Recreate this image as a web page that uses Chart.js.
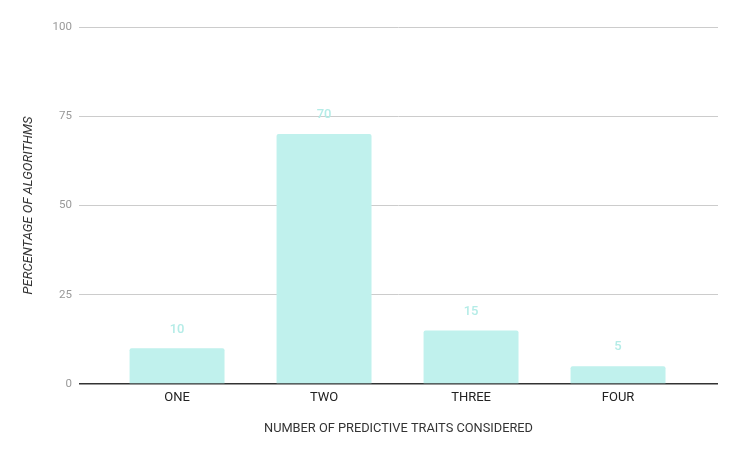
<!DOCTYPE html>
<html>
<head>
<meta charset="utf-8">
<script src="https://cdn.jsdelivr.net/npm/chart.js@4"></script>
<style>
  html, body { margin: 0; padding: 0; background: #fff; }
  #wrap { width: 740px; height: 457px; }
</style>
</head>
<body>
<div id="wrap"><canvas id="bar" width="740" height="457"></canvas></div>
<script>
var categories = ['ONE', 'TWO', 'THREE', 'FOUR'];
var percentages = [10, 70, 15, 5];
var yTicks = [0, 25, 50, 75, 100];

Chart.defaults.font.family = 'Roboto';

// Draws the value above each bar
var valueLabels = {
    id: 'valueLabels',
    afterDatasetsDraw: function(chart) {
        var ctx = chart.ctx;
        var meta = chart.getDatasetMeta(0);
        ctx.save();
        ctx.font = '500 13px Roboto';
        ctx.fillStyle = '#b4ece7';
        ctx.textAlign = 'center';
        ctx.textBaseline = 'middle';
        meta.data.forEach(function(bar, i) {
            ctx.fillText(percentages[i], bar.x, bar.y - 19);
        });
        ctx.restore();
    }
};

var points = categories.map(function(c, i) {
    return {x: i, y: percentages[i]};
});

var ctx = document.getElementById('bar').getContext('2d');
var myBarChart = new Chart(ctx, {
    type: 'bar',
    data: {
        datasets: [{
            data: points,
            backgroundColor: '#c0f1ed',
            borderRadius: 2,
            borderSkipped: 'bottom',
            categoryPercentage: 1,
            barPercentage: 0.646
        }]
    },
    options: {
        responsive: false,
        animation: false,
        layout: { padding: { top: 27, right: 22, left: 21, bottom: 21 } },
        plugins: {
            legend: { display: false },
            tooltip: { enabled: false }
        },
        scales: {
            x: {
                type: 'linear',
                offset: false,
                min: -0.667,
                max: 3.68,
                afterBuildTicks: function(scale) {
                    scale.ticks = categories.map(function(c, i) { return {value: i}; });
                },
                afterFit: function(scale) { scale.height = 52; },
                grid: { display: false },
                border: { display: false },
                ticks: {
                    padding: -2,
                    color: '#222',
                    font: { size: 13 },
                    autoSkip: false,
                    maxRotation: 0,
                    callback: function(v) { return categories[v]; }
                },
                title: {
                    display: true,
                    text: 'NUMBER OF PREDICTIVE TRAITS CONSIDERED',
                    color: '#333',
                    font: { size: 12.8 },
                    padding: 0
                }
            },
            y: {
                min: 0,
                max: 100,
                afterBuildTicks: function(scale) {
                    scale.ticks = yTicks.map(function(v) { return {value: v}; });
                },
                afterFit: function(scale) { scale.width = 58; },
                border: { display: false },
                grid: {
                    drawTicks: false,
                    color: function(c) { return c.tick.value === 0 ? '#333' : '#cccccc'; },
                    lineWidth: function(c) { return c.tick.value === 0 ? 1.5 : 1; }
                },
                ticks: {
                    padding: 7,
                    color: '#999',
                    font: { size: 11.5 }
                },
                title: {
                    display: true,
                    text: 'PERCENTAGE OF ALGORITHMS',
                    color: '#333',
                    font: { size: 13, style: 'italic' },
                    padding: 0
                }
            }
        }
    },
    plugins: [valueLabels]
});
</script>
</body>
</html>
